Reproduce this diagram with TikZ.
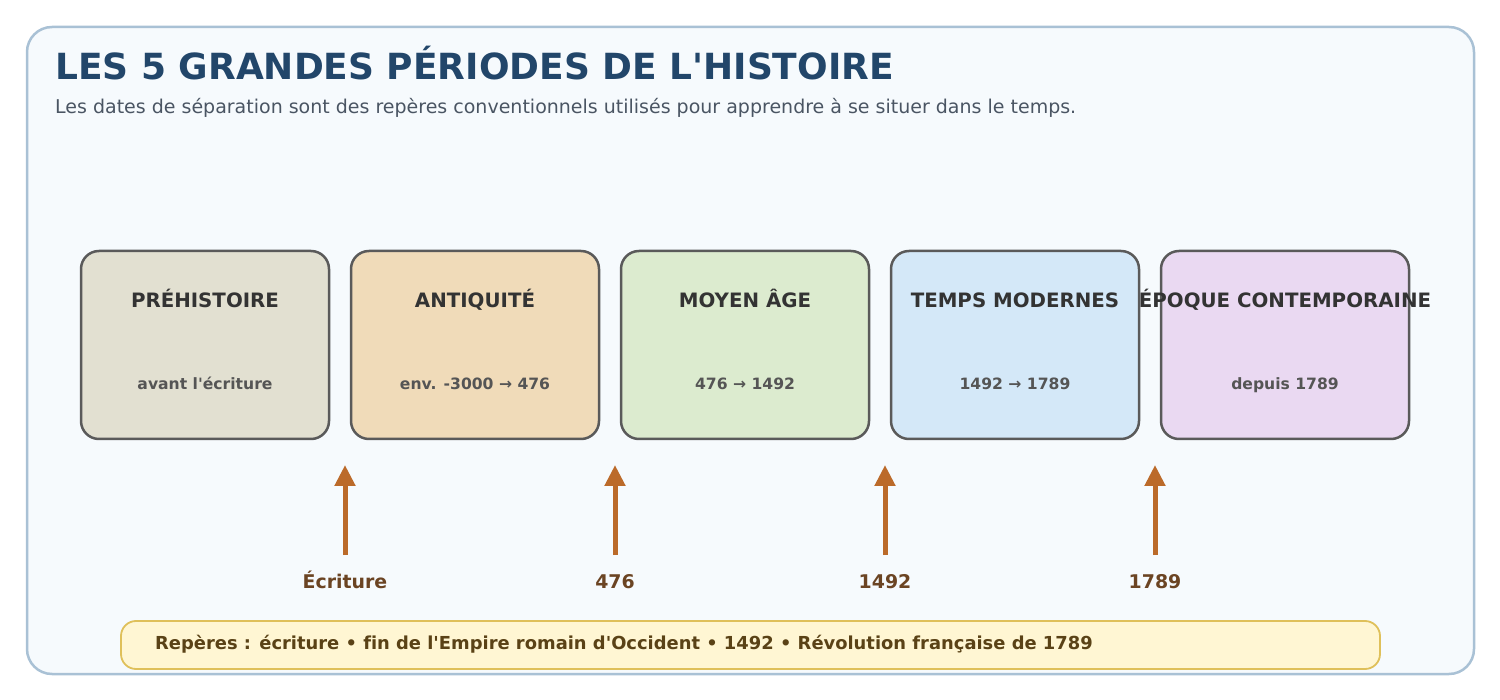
\documentclass[tikz,border=0pt]{standalone}
\usepackage{fontspec}
\setmainfont{DejaVu Sans}[Ligatures={NoCommon,TeXOff}]
\usetikzlibrary{arrows.meta}
\definecolor{frameB}{HTML}{A9C1D5}
\definecolor{frameF}{HTML}{F6FAFD}
\definecolor{titleC}{HTML}{22466A}
\definecolor{subC}{HTML}{4A5563}
\definecolor{boxB}{HTML}{5A5A5A}
\definecolor{fA}{HTML}{E2E0D1}
\definecolor{fB}{HTML}{F0DBB9}
\definecolor{fC}{HTML}{DCEBCF}
\definecolor{fD}{HTML}{D4E8F8}
\definecolor{fE}{HTML}{EAD9F2}
\definecolor{ptitle}{HTML}{333333}
\definecolor{psub}{HTML}{555555}
\definecolor{arrC}{HTML}{BB6A2A}
\definecolor{labC}{HTML}{6B4423}
\definecolor{noteF}{HTML}{FFF6D3}
\definecolor{noteB}{HTML}{DFC05A}
\definecolor{noteT}{HTML}{5A4216}
\tikzset{
  x=1pt,y=-1pt,
  period/.style={draw=boxB,line width=2.5pt,rounded corners=18pt,minimum width=248pt,minimum height=188pt,inner sep=0pt},
  ptxt/.style={font=\bfseries\fontsize{19.8}{22}\selectfont,text=ptitle,inner sep=0pt},
  pdate/.style={font=\bfseries\fontsize{15.6}{18}\selectfont,text=psub,inner sep=0pt},
  marker/.style={draw=arrC,line width=5pt,-{Triangle[length=21pt,width=20pt]}},
  mlabel/.style={font=\bfseries\fontsize{18.9}{21}\selectfont,text=labC,inner sep=0pt},
}
\begin{document}
\begin{tikzpicture}
\useasboundingbox (0,0) rectangle (1500,700);
\node[draw=frameB,fill=frameF,line width=2.5pt,rounded corners=25pt,minimum width=1447pt,minimum height=647pt,inner sep=0pt] (frame) at (750.5,350.5) {};
\node[anchor=base west,inner sep=0pt,font=\bfseries\fontsize{36}{40}\selectfont,text=titleC] (title) at (55,80) {LES 5 GRANDES PÉRIODES DE L'HISTOIRE};
\node[anchor=base west,inner sep=0pt,font=\fontsize{19}{22}\selectfont,text=subC] (subtitle) at (55,114) {Les dates de séparation sont des repères conventionnels utilisés pour apprendre à se situer dans le temps.};
\foreach \i/\cx/\col/\name/\dt in {1/205/fA/PRÉHISTOIRE/avant l'écriture, 2/475/fB/ANTIQUITÉ/env. -3000 → 476, 3/745/fC/MOYEN ÂGE/476 → 1492, 4/1015/fD/TEMPS MODERNES/1492 → 1789, 5/1285/fE/ÉPOQUE CONTEMPORAINE/depuis 1789}{
  \node[period,fill=\col] (p\i) at (\cx,345) {};
  \node[ptxt,anchor=base] (pt\i) at (\cx,307.5) {\name};
  \node[pdate,anchor=base] (pd\i) at (\cx,390) {\dt};
}
\foreach \i/\cx/\lab in {1/345/Écriture, 2/615/476, 3/885/1492, 4/1155/1789}{
  \coordinate (top\i) at (\cx,465);
  \coordinate (bot\i) at (\cx,555);
  \draw[marker] (bot\i) -- (top\i);
  \node[mlabel,anchor=base] (ml\i) at (\cx,588) {\lab};
}
\node[draw=noteB,fill=noteF,line width=1.8pt,rounded corners=15pt,minimum width=1259pt,minimum height=48pt,inner sep=0pt] (note) at (750.5,645) {};
\node[anchor=base west,inner sep=0pt,font=\bfseries\fontsize{17.9}{20}\selectfont,text=noteT] (notetext) at (155,649) {Repères : écriture • fin de l'Empire romain d'Occident • 1492 • Révolution française de 1789};
\end{tikzpicture}
\end{document}
